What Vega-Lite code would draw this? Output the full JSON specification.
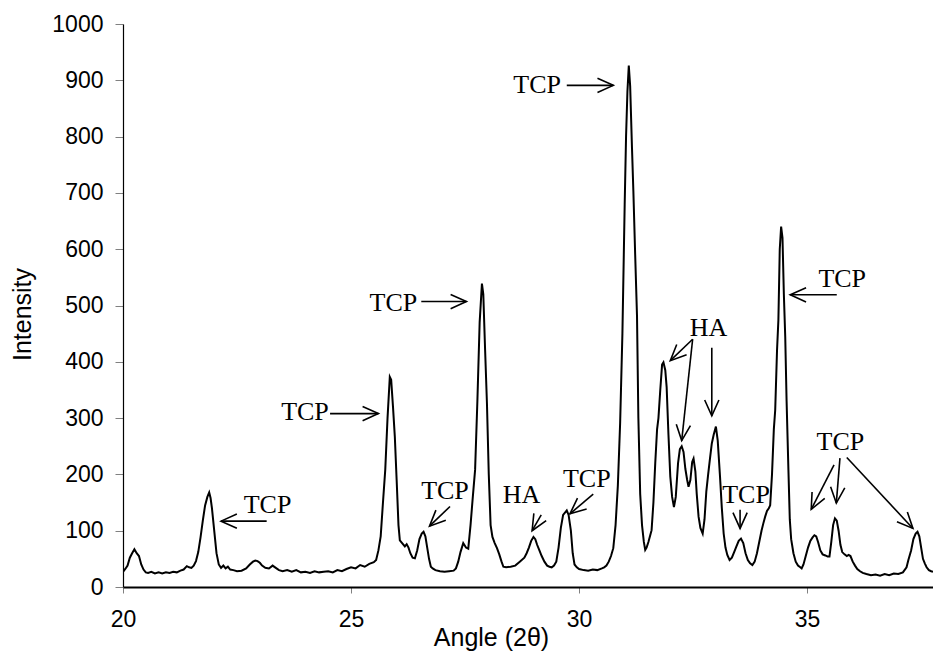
{
  "$schema": "https://vega.github.io/schema/vega-lite/v6.json",
  "width": 810,
  "height": 563,
  "autosize": {"type": "none"},
  "padding": {"left": 123, "top": 24, "right": 0, "bottom": 64},
  "background": "white",
  "config": {
    "view": {"stroke": null},
    "axis": {
      "labelFont": "Liberation Sans",
      "titleFont": "Liberation Sans",
      "labelColor": "black",
      "titleColor": "black",
      "titleFontWeight": "normal",
      "grid": false,
      "domainColor": "black",
      "tickColor": "#808080",
      "labelFlush": false,
      "labelOverlap": false
    }
  },
  "datasets": {
    "xrd": [
      {"theta": 20.00, "intensity": 27}, {"theta": 20.05, "intensity": 32}, {"theta": 20.10, "intensity": 38}, {"theta": 20.15, "intensity": 52},
      {"theta": 20.20, "intensity": 60}, {"theta": 20.25, "intensity": 67}, {"theta": 20.30, "intensity": 60}, {"theta": 20.35, "intensity": 55},
      {"theta": 20.40, "intensity": 40}, {"theta": 20.45, "intensity": 31}, {"theta": 20.50, "intensity": 26}, {"theta": 20.55, "intensity": 25},
      {"theta": 20.62, "intensity": 27}, {"theta": 20.70, "intensity": 24}, {"theta": 20.78, "intensity": 26}, {"theta": 20.86, "intensity": 24},
      {"theta": 20.94, "intensity": 26}, {"theta": 21.02, "intensity": 25}, {"theta": 21.10, "intensity": 27}, {"theta": 21.18, "intensity": 26},
      {"theta": 21.26, "intensity": 29}, {"theta": 21.33, "intensity": 31}, {"theta": 21.40, "intensity": 37}, {"theta": 21.45, "intensity": 35},
      {"theta": 21.50, "intensity": 34}, {"theta": 21.55, "intensity": 38}, {"theta": 21.60, "intensity": 46}, {"theta": 21.65, "intensity": 62},
      {"theta": 21.70, "intensity": 88}, {"theta": 21.75, "intensity": 118}, {"theta": 21.80, "intensity": 145}, {"theta": 21.85, "intensity": 160},
      {"theta": 21.89, "intensity": 168}, {"theta": 21.92, "intensity": 158}, {"theta": 21.95, "intensity": 140}, {"theta": 22.00, "intensity": 100},
      {"theta": 22.05, "intensity": 60}, {"theta": 22.10, "intensity": 40}, {"theta": 22.15, "intensity": 34}, {"theta": 22.20, "intensity": 38},
      {"theta": 22.25, "intensity": 33}, {"theta": 22.30, "intensity": 36}, {"theta": 22.35, "intensity": 31}, {"theta": 22.42, "intensity": 30},
      {"theta": 22.50, "intensity": 28}, {"theta": 22.60, "intensity": 29}, {"theta": 22.70, "intensity": 33}, {"theta": 22.78, "intensity": 40},
      {"theta": 22.85, "intensity": 45}, {"theta": 22.90, "intensity": 47}, {"theta": 22.95, "intensity": 46}, {"theta": 23.00, "intensity": 43},
      {"theta": 23.05, "intensity": 38}, {"theta": 23.12, "intensity": 34}, {"theta": 23.20, "intensity": 33}, {"theta": 23.28, "intensity": 38},
      {"theta": 23.35, "intensity": 34}, {"theta": 23.42, "intensity": 30}, {"theta": 23.50, "intensity": 28}, {"theta": 23.60, "intensity": 30},
      {"theta": 23.70, "intensity": 27}, {"theta": 23.80, "intensity": 30}, {"theta": 23.90, "intensity": 26}, {"theta": 24.00, "intensity": 27},
      {"theta": 24.10, "intensity": 25}, {"theta": 24.20, "intensity": 28}, {"theta": 24.30, "intensity": 26}, {"theta": 24.40, "intensity": 27},
      {"theta": 24.50, "intensity": 28}, {"theta": 24.60, "intensity": 26}, {"theta": 24.70, "intensity": 30}, {"theta": 24.80, "intensity": 28},
      {"theta": 24.90, "intensity": 32}, {"theta": 25.00, "intensity": 35}, {"theta": 25.10, "intensity": 33}, {"theta": 25.20, "intensity": 39},
      {"theta": 25.30, "intensity": 36}, {"theta": 25.40, "intensity": 41}, {"theta": 25.50, "intensity": 44}, {"theta": 25.55, "intensity": 48},
      {"theta": 25.60, "intensity": 65}, {"theta": 25.65, "intensity": 90}, {"theta": 25.70, "intensity": 150}, {"theta": 25.75, "intensity": 208},
      {"theta": 25.80, "intensity": 300}, {"theta": 25.85, "intensity": 373}, {"theta": 25.88, "intensity": 368}, {"theta": 25.92, "intensity": 320},
      {"theta": 25.96, "intensity": 267}, {"theta": 26.00, "intensity": 190}, {"theta": 26.04, "intensity": 110}, {"theta": 26.07, "intensity": 83},
      {"theta": 26.12, "intensity": 78}, {"theta": 26.18, "intensity": 72}, {"theta": 26.22, "intensity": 76}, {"theta": 26.26, "intensity": 70},
      {"theta": 26.30, "intensity": 60}, {"theta": 26.35, "intensity": 52}, {"theta": 26.40, "intensity": 51}, {"theta": 26.45, "intensity": 65},
      {"theta": 26.50, "intensity": 85}, {"theta": 26.55, "intensity": 95}, {"theta": 26.59, "intensity": 98}, {"theta": 26.63, "intensity": 90},
      {"theta": 26.67, "intensity": 70}, {"theta": 26.71, "intensity": 50}, {"theta": 26.75, "intensity": 36}, {"theta": 26.79, "intensity": 33},
      {"theta": 26.85, "intensity": 30}, {"theta": 26.95, "intensity": 28}, {"theta": 27.05, "intensity": 27}, {"theta": 27.15, "intensity": 28},
      {"theta": 27.25, "intensity": 29}, {"theta": 27.30, "intensity": 33}, {"theta": 27.35, "intensity": 45}, {"theta": 27.40, "intensity": 62},
      {"theta": 27.46, "intensity": 78}, {"theta": 27.52, "intensity": 70}, {"theta": 27.57, "intensity": 68}, {"theta": 27.62, "intensity": 110},
      {"theta": 27.67, "intensity": 160}, {"theta": 27.72, "intensity": 208}, {"theta": 27.77, "intensity": 330}, {"theta": 27.82, "intensity": 470},
      {"theta": 27.87, "intensity": 539}, {"theta": 27.90, "intensity": 520}, {"theta": 27.94, "intensity": 420}, {"theta": 27.98, "intensity": 326},
      {"theta": 28.02, "intensity": 200}, {"theta": 28.06, "intensity": 110}, {"theta": 28.10, "intensity": 89}, {"theta": 28.15, "intensity": 78},
      {"theta": 28.20, "intensity": 69}, {"theta": 28.25, "intensity": 58}, {"theta": 28.30, "intensity": 45}, {"theta": 28.34, "intensity": 36},
      {"theta": 28.40, "intensity": 35}, {"theta": 28.50, "intensity": 36}, {"theta": 28.60, "intensity": 38}, {"theta": 28.70, "intensity": 45},
      {"theta": 28.80, "intensity": 52}, {"theta": 28.85, "intensity": 60}, {"theta": 28.90, "intensity": 70}, {"theta": 28.95, "intensity": 82},
      {"theta": 29.00, "intensity": 89}, {"theta": 29.04, "intensity": 85}, {"theta": 29.08, "intensity": 75}, {"theta": 29.13, "intensity": 65},
      {"theta": 29.18, "intensity": 55}, {"theta": 29.24, "intensity": 45}, {"theta": 29.30, "intensity": 38}, {"theta": 29.35, "intensity": 36},
      {"theta": 29.40, "intensity": 35}, {"theta": 29.45, "intensity": 38}, {"theta": 29.50, "intensity": 45}, {"theta": 29.55, "intensity": 70},
      {"theta": 29.60, "intensity": 105}, {"theta": 29.65, "intensity": 128}, {"theta": 29.70, "intensity": 133}, {"theta": 29.73, "intensity": 136},
      {"theta": 29.77, "intensity": 128}, {"theta": 29.82, "intensity": 100}, {"theta": 29.86, "intensity": 60}, {"theta": 29.90, "intensity": 40},
      {"theta": 29.95, "intensity": 35}, {"theta": 30.00, "intensity": 32}, {"theta": 30.10, "intensity": 30}, {"theta": 30.20, "intensity": 29},
      {"theta": 30.30, "intensity": 31}, {"theta": 30.40, "intensity": 30}, {"theta": 30.50, "intensity": 33}, {"theta": 30.55, "intensity": 35},
      {"theta": 30.60, "intensity": 38}, {"theta": 30.65, "intensity": 45}, {"theta": 30.70, "intensity": 55}, {"theta": 30.75, "intensity": 69},
      {"theta": 30.80, "intensity": 110}, {"theta": 30.85, "intensity": 180}, {"theta": 30.90, "intensity": 291}, {"theta": 30.95, "intensity": 450},
      {"theta": 31.00, "intensity": 680}, {"theta": 31.03, "intensity": 800}, {"theta": 31.06, "intensity": 880}, {"theta": 31.09, "intensity": 926},
      {"theta": 31.12, "intensity": 890}, {"theta": 31.16, "intensity": 780}, {"theta": 31.19, "intensity": 704}, {"theta": 31.23, "intensity": 590},
      {"theta": 31.27, "intensity": 482}, {"theta": 31.30, "intensity": 300}, {"theta": 31.34, "intensity": 165}, {"theta": 31.38, "intensity": 110},
      {"theta": 31.42, "intensity": 80}, {"theta": 31.45, "intensity": 66}, {"theta": 31.48, "intensity": 70}, {"theta": 31.52, "intensity": 80},
      {"theta": 31.56, "intensity": 92}, {"theta": 31.59, "intensity": 101}, {"theta": 31.63, "intensity": 150}, {"theta": 31.67, "intensity": 220},
      {"theta": 31.71, "intensity": 280}, {"theta": 31.74, "intensity": 300}, {"theta": 31.78, "intensity": 350}, {"theta": 31.82, "intensity": 395},
      {"theta": 31.85, "intensity": 399}, {"theta": 31.89, "intensity": 385}, {"theta": 31.92, "intensity": 355}, {"theta": 31.96, "intensity": 270},
      {"theta": 32.00, "intensity": 196}, {"theta": 32.04, "intensity": 160}, {"theta": 32.08, "intensity": 142}, {"theta": 32.12, "intensity": 160},
      {"theta": 32.17, "intensity": 220}, {"theta": 32.21, "intensity": 245}, {"theta": 32.25, "intensity": 250}, {"theta": 32.29, "intensity": 240},
      {"theta": 32.33, "intensity": 210}, {"theta": 32.37, "intensity": 190}, {"theta": 32.40, "intensity": 178}, {"theta": 32.44, "intensity": 190},
      {"theta": 32.48, "intensity": 222}, {"theta": 32.51, "intensity": 228}, {"theta": 32.55, "intensity": 205}, {"theta": 32.58, "intensity": 165},
      {"theta": 32.62, "intensity": 125}, {"theta": 32.66, "intensity": 105}, {"theta": 32.71, "intensity": 95}, {"theta": 32.75, "intensity": 120},
      {"theta": 32.79, "intensity": 170}, {"theta": 32.83, "intensity": 200}, {"theta": 32.87, "intensity": 228}, {"theta": 32.91, "intensity": 255},
      {"theta": 32.95, "intensity": 270}, {"theta": 33.00, "intensity": 285}, {"theta": 33.04, "intensity": 260}, {"theta": 33.09, "intensity": 196},
      {"theta": 33.13, "intensity": 140}, {"theta": 33.17, "intensity": 95}, {"theta": 33.21, "intensity": 70}, {"theta": 33.25, "intensity": 57},
      {"theta": 33.30, "intensity": 48}, {"theta": 33.35, "intensity": 52}, {"theta": 33.40, "intensity": 62}, {"theta": 33.45, "intensity": 72},
      {"theta": 33.50, "intensity": 82}, {"theta": 33.55, "intensity": 86}, {"theta": 33.60, "intensity": 78}, {"theta": 33.65, "intensity": 60},
      {"theta": 33.70, "intensity": 48}, {"theta": 33.75, "intensity": 42}, {"theta": 33.80, "intensity": 39}, {"theta": 33.85, "intensity": 45},
      {"theta": 33.90, "intensity": 60}, {"theta": 33.95, "intensity": 80}, {"theta": 34.00, "intensity": 100}, {"theta": 34.04, "intensity": 113},
      {"theta": 34.08, "intensity": 125}, {"theta": 34.12, "intensity": 135}, {"theta": 34.16, "intensity": 140}, {"theta": 34.19, "intensity": 145},
      {"theta": 34.23, "intensity": 200}, {"theta": 34.27, "intensity": 280}, {"theta": 34.30, "intensity": 314}, {"theta": 34.34, "intensity": 420},
      {"theta": 34.37, "intensity": 474}, {"theta": 34.40, "intensity": 600}, {"theta": 34.43, "intensity": 640}, {"theta": 34.46, "intensity": 620},
      {"theta": 34.49, "intensity": 520}, {"theta": 34.52, "intensity": 445}, {"theta": 34.55, "intensity": 330}, {"theta": 34.59, "intensity": 208},
      {"theta": 34.62, "intensity": 120}, {"theta": 34.65, "intensity": 85}, {"theta": 34.70, "intensity": 60}, {"theta": 34.75, "intensity": 45},
      {"theta": 34.80, "intensity": 38}, {"theta": 34.85, "intensity": 35}, {"theta": 34.88, "intensity": 33}, {"theta": 34.92, "intensity": 40},
      {"theta": 34.97, "intensity": 55}, {"theta": 35.02, "intensity": 70}, {"theta": 35.07, "intensity": 82}, {"theta": 35.12, "intensity": 88},
      {"theta": 35.16, "intensity": 92}, {"theta": 35.20, "intensity": 90}, {"theta": 35.24, "intensity": 80}, {"theta": 35.29, "intensity": 65},
      {"theta": 35.34, "intensity": 58}, {"theta": 35.40, "intensity": 56}, {"theta": 35.45, "intensity": 54}, {"theta": 35.49, "intensity": 54},
      {"theta": 35.53, "intensity": 80}, {"theta": 35.57, "intensity": 110}, {"theta": 35.61, "intensity": 122}, {"theta": 35.65, "intensity": 118},
      {"theta": 35.69, "intensity": 100}, {"theta": 35.73, "intensity": 75}, {"theta": 35.77, "intensity": 62}, {"theta": 35.82, "intensity": 58},
      {"theta": 35.87, "intensity": 55}, {"theta": 35.91, "intensity": 57}, {"theta": 35.95, "intensity": 55}, {"theta": 36.00, "intensity": 45},
      {"theta": 36.05, "intensity": 38}, {"theta": 36.10, "intensity": 32}, {"theta": 36.16, "intensity": 28}, {"theta": 36.22, "intensity": 25},
      {"theta": 36.30, "intensity": 23}, {"theta": 36.40, "intensity": 21}, {"theta": 36.50, "intensity": 22}, {"theta": 36.60, "intensity": 20},
      {"theta": 36.70, "intensity": 23}, {"theta": 36.80, "intensity": 21}, {"theta": 36.90, "intensity": 24}, {"theta": 37.00, "intensity": 23},
      {"theta": 37.10, "intensity": 26}, {"theta": 37.18, "intensity": 35}, {"theta": 37.22, "intensity": 48}, {"theta": 37.28, "intensity": 65},
      {"theta": 37.33, "intensity": 85}, {"theta": 37.38, "intensity": 95}, {"theta": 37.42, "intensity": 98}, {"theta": 37.46, "intensity": 90},
      {"theta": 37.50, "intensity": 70}, {"theta": 37.54, "intensity": 50}, {"theta": 37.58, "intensity": 42}, {"theta": 37.62, "intensity": 35},
      {"theta": 37.67, "intensity": 30}, {"theta": 37.72, "intensity": 28}, {"theta": 37.76, "intensity": 27}
    ],
    "labels": [
      {"x": 23.17, "y": 146, "label": "TCP"},
      {"x": 23.99, "y": 311, "label": "TCP"},
      {"x": 25.93, "y": 504, "label": "TCP"},
      {"x": 27.06, "y": 171, "label": "TCP"},
      {"x": 28.74, "y": 163, "label": "HA"},
      {"x": 30.17, "y": 192, "label": "TCP"},
      {"x": 29.08, "y": 891, "label": "TCP"},
      {"x": 32.84, "y": 460, "label": "HA"},
      {"x": 35.77, "y": 547, "label": "TCP"},
      {"x": 33.66, "y": 163, "label": "TCP"},
      {"x": 35.73, "y": 257, "label": "TCP"}
    ],
    "arrows": [
      {"x1": 23.15, "y1": 117, "x2": 22.15, "y2": 117, "angle": 180},
      {"x1": 24.54, "y1": 308, "x2": 25.60, "y2": 308, "angle": 0},
      {"x1": 26.54, "y1": 507, "x2": 27.53, "y2": 507, "angle": 0},
      {"x1": 27.17, "y1": 143, "x2": 26.72, "y2": 108, "angle": 136},
      {"x1": 29.17, "y1": 128, "x2": 28.97, "y2": 100, "angle": 120},
      {"x1": 30.31, "y1": 165, "x2": 29.80, "y2": 130, "angle": 140},
      {"x1": 29.73, "y1": 891, "x2": 30.75, "y2": 891, "angle": 0},
      {"x1": 32.49, "y1": 440, "x2": 32.00, "y2": 402, "angle": 136},
      {"x1": 32.49, "y1": 440, "x2": 32.25, "y2": 260, "angle": 96},
      {"x1": 32.91, "y1": 425, "x2": 32.91, "y2": 304, "angle": 90},
      {"x1": 35.65, "y1": 519, "x2": 34.63, "y2": 519, "angle": 180},
      {"x1": 33.53, "y1": 137, "x2": 33.53, "y2": 104, "angle": 90},
      {"x1": 35.59, "y1": 217, "x2": 35.09, "y2": 138, "angle": 117},
      {"x1": 35.72, "y1": 229, "x2": 35.64, "y2": 149, "angle": 95},
      {"x1": 35.87, "y1": 230, "x2": 37.32, "y2": 104, "angle": 47}
    ]
  },
  "layer": [
    {
      "data": {"name": "xrd"},
      "mark": {"type": "line", "color": "black", "strokeWidth": 2, "clip": true, "interpolate": "linear"},
      "encoding": {
        "x": {
          "field": "theta", "type": "quantitative",
          "scale": {"domain": [20, 37.76], "nice": false, "zero": false},
          "axis": {
            "title": "Angle (2θ)", "values": [20, 25, 30, 35], "format": "d",
            "labelFontSize": 23, "titleFontSize": 25,
            "domainWidth": 2, "tickSize": 6, "tickWidth": 1, "labelPadding": 15,
            "titleX": 368, "titleY": 50, "titleAlign": "center", "titleBaseline": "middle"
          }
        },
        "y": {
          "field": "intensity", "type": "quantitative",
          "scale": {"domain": [0, 1000], "nice": false},
          "axis": {
            "title": "Intensity", "values": [0, 100, 200, 300, 400, 500, 600, 700, 800, 900, 1000], "format": "d",
            "labelFontSize": 23, "titleFontSize": 25,
            "domainWidth": 1.2, "tickSize": 8, "tickWidth": 1, "labelPadding": 12,
            "titleX": -101, "titleY": 290, "titleAngle": -90, "titleAlign": "center", "titleBaseline": "middle"
          }
        }
      }
    },
    {
      "data": {"name": "arrows"},
      "mark": {"type": "rule", "color": "black", "strokeWidth": 1.6},
      "encoding": {
        "x": {"field": "x1", "type": "quantitative"},
        "y": {"field": "y1", "type": "quantitative"},
        "x2": {"field": "x2"},
        "y2": {"field": "y2"}
      }
    },
    {
      "data": {"name": "arrows"},
      "mark": {"type": "point", "shape": "M -1 -0.45 L 0 0 L -1 0.45", "filled": false, "stroke": "black", "strokeWidth": 1.6, "size": 1000, "opacity": 1},
      "encoding": {
        "x": {"field": "x2", "type": "quantitative"},
        "y": {"field": "y2", "type": "quantitative"},
        "angle": {"field": "angle", "type": "quantitative", "scale": null}
      }
    },
    {
      "data": {"name": "labels"},
      "mark": {"type": "text", "font": "Liberation Serif", "fontSize": 26, "color": "black", "align": "center", "baseline": "middle"},
      "encoding": {
        "x": {"field": "x", "type": "quantitative"},
        "y": {"field": "y", "type": "quantitative"},
        "text": {"field": "label"}
      }
    }
  ]
}
